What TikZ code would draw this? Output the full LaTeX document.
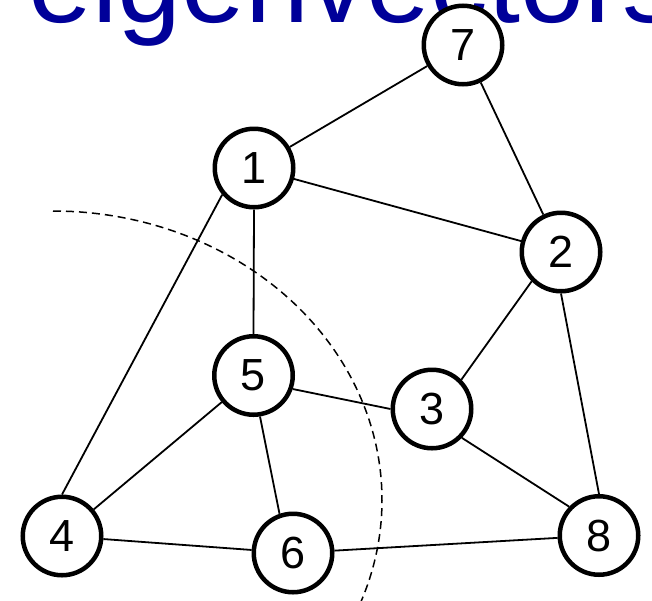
\documentclass[tikz,border=0pt]{standalone}
\usepackage{fontspec}
\setmainfont{Liberation Sans}
\definecolor{titleblue}{RGB}{0,0,153}
\begin{document}
\begin{tikzpicture}[x=1pt,y=-1pt,
  vert/.style={circle,draw=black,fill=white,line width=4.5pt,minimum size=78.5pt,inner sep=0pt,font=\fontsize{45}{54}\selectfont},
  edge/.style={line width=1.8pt},
  cut/.style={line width=1.5pt,dash pattern=on 8pt off 5pt}]
\useasboundingbox (0,0) rectangle (652,600);
\clip (0,0) rectangle (652,600);
\node[anchor=base west,inner sep=0pt,text=titleblue,font=\fontsize{115}{130}\selectfont] (title) at (28,22) {eigenvectors};
\node[vert] (n1) at (254,168) {1};
\node[vert] (n2) at (561,252) {2};
\node[vert] (n3) at (432,409) {3};
\node[vert] (n4) at (62,536) {4};
\node[vert] (n5) at (253.5,375.5) {5};
\node[vert] (n6) at (293,553) {6};
\node[vert] (n7) at (463,45) {7};
\node[vert] (n8) at (599,535.5) {8};
\draw[edge] (n7) -- (n1);
\draw[edge] (n7) -- (n2);
\draw[edge] (n1) -- (n2);
\draw[edge] (n1.south) -- (n5.north);
\draw[edge] (n1.220) -- (n4.north);
\draw[edge] (n2.-135) -- (n3.45);
\draw[edge] (n2.south) -- (n8.north);
\draw[edge] (n5.-19) -- (n3.180);
\draw[edge] (n5) -- (n4);
\draw[edge] (n5.-81) -- (n6.109);
\draw[edge] (n3.-44) -- (n8.136);
\draw[edge] (n4) -- (n6);
\draw[edge] (n6) -- (n8);
\coordinate (arcstart) at (53,211);
\draw[cut] (arcstart) arc[start angle=90,end angle=-25,x radius=329pt,y radius=289pt];
\end{tikzpicture}
\end{document}
